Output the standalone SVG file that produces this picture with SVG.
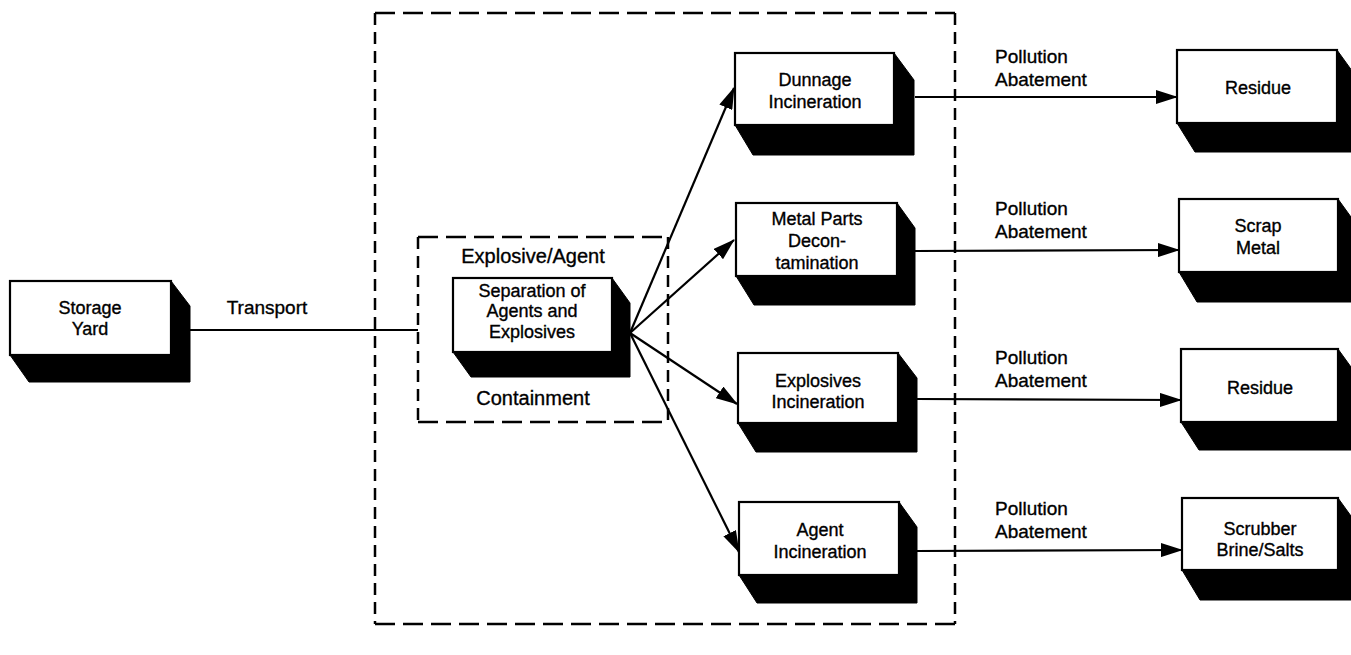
<svg xmlns="http://www.w3.org/2000/svg" width="1351" height="655" viewBox="0 0 1351 655">
  <defs>
    <style>
      .face { fill: #ffffff; stroke: #000000; stroke-width: 2.2; }
      .shadow { fill: #000000; stroke: #000000; stroke-width: 1; stroke-linejoin: round; }
      .lbl { font-family: "Liberation Sans", Arial, sans-serif; font-size: 18px; fill: #000000; stroke: #000000; stroke-width: 0.35; text-anchor: middle; }
      .big { font-family: "Liberation Sans", Arial, sans-serif; font-size: 20px; fill: #000000; stroke: #000000; stroke-width: 0.35; text-anchor: middle; }
      .note { font-family: "Liberation Sans", Arial, sans-serif; font-size: 19px; fill: #000000; stroke: #000000; stroke-width: 0.35; }
      .wire { stroke: #000000; stroke-width: 2.2; fill: none; }
      .dashH { stroke: #000000; stroke-width: 2.5; fill: none; stroke-dasharray: 20 8; }
      .dashV { stroke: #000000; stroke-width: 2.5; fill: none; stroke-dasharray: 12 7; }
    </style>
    <marker id="head" markerUnits="userSpaceOnUse" markerWidth="22" markerHeight="14" refX="21" refY="7" orient="auto">
      <path d="M0,0 L22,7 L0,14 z" fill="#000000"/>
    </marker>
  </defs>

  <rect width="1351" height="655" fill="#ffffff"/>

  <!-- containment outlines -->
  <g id="outer-enclosure">
    <line class="dashH" x1="375" y1="13" x2="955" y2="13"/>
    <line class="dashH" x1="375" y1="624" x2="955" y2="624"/>
    <line class="dashV" x1="375" y1="13" x2="375" y2="624"/>
    <line class="dashV" x1="955" y1="13" x2="955" y2="624"/>
  </g>
  <g id="explosive-agent-containment">
    <line class="dashH" x1="418" y1="237" x2="668" y2="237"/>
    <line class="dashH" x1="418" y1="422" x2="668" y2="422"/>
    <line class="dashV" x1="418" y1="237" x2="418" y2="422"/>
    <line class="dashV" x1="668" y1="237" x2="668" y2="422"/>
    <text class="big" x="533" y="263">Explosive/Agent</text>
    <text class="big" x="533" y="405">Containment</text>
  </g>

  <!-- connectors -->
  <g id="connectors">
    <line class="wire" x1="190" y1="330" x2="418" y2="330"/>
    <line class="wire" x1="630" y1="333" x2="734" y2="88" marker-end="url(#head)"/>
    <line class="wire" x1="630" y1="333" x2="734" y2="240" marker-end="url(#head)"/>
    <line class="wire" x1="630" y1="333" x2="737" y2="404" marker-end="url(#head)"/>
    <line class="wire" x1="630" y1="333" x2="739" y2="552" marker-end="url(#head)"/>
    <line class="wire" x1="915" y1="97" x2="1177" y2="97" marker-end="url(#head)"/>
    <line class="wire" x1="915" y1="251" x2="1179" y2="250" marker-end="url(#head)"/>
    <line class="wire" x1="917" y1="399" x2="1181" y2="400" marker-end="url(#head)"/>
    <line class="wire" x1="917" y1="551" x2="1182" y2="550" marker-end="url(#head)"/>
    <text class="note" x="267" y="314" text-anchor="middle">Transport</text>
    <text class="note" x="995" y="63">Pollution</text>
    <text class="note" x="995" y="86">Abatement</text>
    <text class="note" x="995" y="215">Pollution</text>
    <text class="note" x="995" y="238">Abatement</text>
    <text class="note" x="995" y="364">Pollution</text>
    <text class="note" x="995" y="387">Abatement</text>
    <text class="note" x="995" y="515">Pollution</text>
    <text class="note" x="995" y="538">Abatement</text>
  </g>

  <!-- process blocks: extruded shadow, then face -->
  <g id="storage-yard">
    <polygon class="shadow" points="171,281 190,306 190,382 29,382 10,355"/>
    <rect class="face" x="10" y="281" width="161" height="74"/>
    <text class="lbl" x="90" y="314">Storage</text>
    <text class="lbl" x="90" y="335">Yard</text>
  </g>

  <g id="separation">
    <polygon class="shadow" points="612,278 630,303 630,377 471,377 453,352"/>
    <rect class="face" x="453" y="278" width="159" height="74"/>
    <text class="lbl" x="532" y="297">Separation of</text>
    <text class="lbl" x="532" y="317">Agents and</text>
    <text class="lbl" x="532" y="338">Explosives</text>
  </g>

  <g id="dunnage-incineration">
    <polygon class="shadow" points="894,53 914,80 914,155 753,155 735,125"/>
    <rect class="face" x="735" y="53" width="159" height="72"/>
    <text class="lbl" x="815" y="86">Dunnage</text>
    <text class="lbl" x="815" y="108">Incineration</text>
  </g>

  <g id="metal-parts-decon">
    <polygon class="shadow" points="897,203 915,228 915,305 754,305 736,276"/>
    <rect class="face" x="736" y="203" width="161" height="73"/>
    <text class="lbl" x="817" y="225">Metal Parts</text>
    <text class="lbl" x="817" y="247">Decon-</text>
    <text class="lbl" x="817" y="269">tamination</text>
  </g>

  <g id="explosives-incineration">
    <polygon class="shadow" points="898,353 917,378 917,452 756,452 738,423"/>
    <rect class="face" x="738" y="353" width="160" height="70"/>
    <text class="lbl" x="818" y="387">Explosives</text>
    <text class="lbl" x="818" y="408">Incineration</text>
  </g>

  <g id="agent-incineration">
    <polygon class="shadow" points="899,502 917,527 917,603 757,603 739,575"/>
    <rect class="face" x="739" y="502" width="160" height="73"/>
    <text class="lbl" x="820" y="536">Agent</text>
    <text class="lbl" x="820" y="558">Incineration</text>
  </g>

  <g id="residue-1">
    <polygon class="shadow" points="1337,50 1355,75 1355,152 1195,152 1177,123"/>
    <rect class="face" x="1177" y="50" width="160" height="73"/>
    <text class="lbl" x="1258" y="94">Residue</text>
  </g>

  <g id="scrap-metal">
    <polygon class="shadow" points="1338,199 1356,224 1356,302 1197,302 1179,272"/>
    <rect class="face" x="1179" y="199" width="159" height="73"/>
    <text class="lbl" x="1258" y="232">Scrap</text>
    <text class="lbl" x="1258" y="254">Metal</text>
  </g>

  <g id="residue-2">
    <polygon class="shadow" points="1338,349 1356,374 1356,450 1199,450 1181,422"/>
    <rect class="face" x="1181" y="349" width="157" height="73"/>
    <text class="lbl" x="1260" y="394">Residue</text>
  </g>

  <g id="scrubber-brine">
    <polygon class="shadow" points="1338,498 1356,523 1356,600 1200,600 1182,570"/>
    <rect class="face" x="1182" y="498" width="156" height="72"/>
    <text class="lbl" x="1260" y="535">Scrubber</text>
    <text class="lbl" x="1260" y="556">Brine/Salts</text>
  </g>
</svg>
